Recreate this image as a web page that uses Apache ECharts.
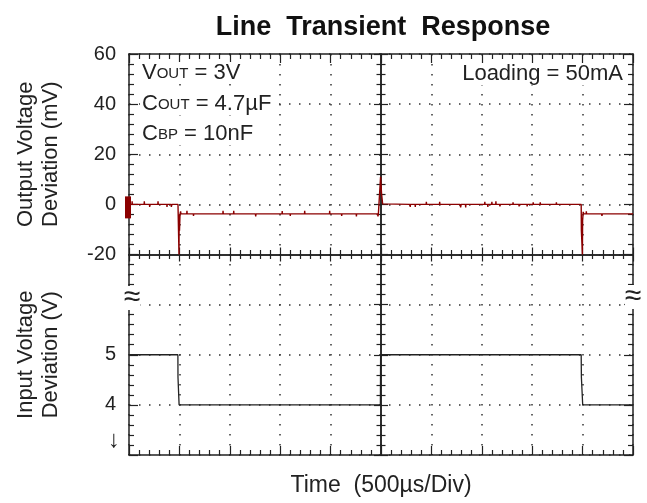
<!DOCTYPE html>
<html><head><meta charset="utf-8">
<script src="https://cdn.jsdelivr.net/npm/echarts@6/dist/echarts.min.js"></script>
<style>html,body{margin:0;padding:0;background:#fff}#c{width:647px;height:503px}</style>
</head><body><div id="c"></div>
<script>
// ---- data (time in µs, 500 µs / div) ----
const outT = [0,30,31,33,150,152,154,203,205,207,286,288,290,375,377,379,418,420,424,426,486,494,496,497,499,501,505,506,512,515,
  573,575,577,638,640,642,931,933,935,1037,1039,1041,1254,1257,1260,1518,1520,1522,1598,1600,1602,1741,1743,1745,1989,1991,1993,2108,2110,2112,2254,2256,2258,2466,2470,2474,
  2490,2494,2496,2503,2505,2513,2516,2525,
  2788,2790,2792,2838,2840,2842,2948,2950,2952,3080,3082,3084,3285,3290,3295,3338,3340,3342,3528,3530,3532,3558,3560,3562,3598,3600,3602,3638,3640,3642,3678,3680,3682,3808,3810,3812,3868,3870,3872,3948,3950,3952,4008,4010,4012,4078,4080,4082,4238,4240,4242,
  4486,4488,4496,4498,4500,4506,4512,4535,4537,4539,4688,4692,4696,5000];
const outMv = [0,0,1.2,0,0,1.2,0,0,-1,0,0,1.2,0,0,-1,0,0,-1,-1,0,0,0,-20,-10.5,-4,-10.5,-10.5,-4,-2.8,-3.8,
  -3.8,-2.6,-3.8,-3.8,-4.6,-3.8,-3.8,-2.6,-3.8,-3.8,-2.6,-3.8,-3.8,-4.8,-3.8,-3.8,-2.7,-3.8,-3.8,-4.6,-3.8,-3.8,-2.6,-3.8,-3.8,-2.6,-3.8,-3.8,-4.6,-3.8,-3.8,-4.8,-3.8,-3.8,-4.8,-3.8,
  -3.8,-3.8,11,11,4.5,4.5,0.2,0,
  0,-1,0,0,-1,0,0,1,0,0,1,0,0,-1.2,0,0,-1.2,0,0,1,0,0,-1,0,0,1,0,0,1.2,0,0,-0.8,0,0,0.8,0,0,-0.8,0,0,-0.8,0,0,0.8,0,0,0.8,0,0,0.8,0,
  0,-10.5,-10.5,-20,-6.5,-3,-3.8,-3.8,-2.8,-3.8,-3.8,-4.6,-3.8,-3.8];
const inT = [0,485,486,496,497,2494,2496,2506,2508,4486,4488,4500,4501,5000];
const inV = [5,5,4.55,4.55,4,4,4.95,4.95,5,5,4.55,4.55,4,4];
const outTicks = [-20, 0, 20, 40, 60];
const inTickLabels = {4: '4', 5: '5'};

// ---- layout / style ----
const FONT = '"Liberation Sans", Arial, sans-serif';
const INK = '#222';
const RED = '#8b0000';
const L = 129, T = 54, W = 504, H = 401;

const chart = echarts.init(document.getElementById('c'), null, {renderer: 'canvas'});
const zip = (a, b) => a.map((v, i) => [v, b[i]]);
const dotted = {show: true, lineStyle: {color: '#333', width: 1.5, type: [1.5, 8.5]}};
const lineSt = {color: INK, width: 1.5};
const tickSt = {color: INK, width: 1.2};

function frameAxis(dim, extra) {
  const base = {
    gridIndex: 0, type: 'value',
    min: dim === 'x' ? -5 : -4, max: dim === 'x' ? 5 : 4, interval: 1,
    axisLabel: {show: false},
    splitLine: {show: false},
    axisLine: {onZero: false, lineStyle: lineSt},
    axisTick: {inside: true, length: 9, lineStyle: tickSt},
    minorTick: {show: true, splitNumber: 5, length: 5, lineStyle: tickSt}
  };
  return Object.assign(base, extra);
}
const centerLine = (inside) => ({
  axisLine: {onZero: true, onZeroAxisIndex: 0, lineStyle: lineSt},
  axisTick: {inside: inside, length: 7, lineStyle: tickSt},
  minorTick: {show: true, splitNumber: 5, length: 4.5, lineStyle: tickSt}
});

const option = {
  animation: false,
  backgroundColor: '#fff',
  title: {
    text: 'Line  Transient  Response', left: 378, top: 9, textAlign: 'center',
    textStyle: {fontFamily: FONT, fontSize: 27, fontWeight: 'bold', color: '#111'}
  },
  grid: [
    {left: L, top: T, width: W, height: H},
    {left: L, top: T, width: W, height: H / 2},
    {left: L, top: T + H / 2, width: W, height: H / 2}
  ],
  xAxis: [
    frameAxis('x', {position: 'bottom', splitLine: dotted}),
    frameAxis('x', {position: 'top'}),
    frameAxis('x', Object.assign({position: 'bottom'}, centerLine(true))),
    frameAxis('x', Object.assign({position: 'bottom'}, centerLine(false))),
    {gridIndex: 1, type: 'value', min: 0, max: 5000, show: false},
    {gridIndex: 2, type: 'value', min: 0, max: 5000,
     axisLine: {show: false, onZero: false}, axisTick: {show: false}, axisLabel: {show: false}, splitLine: {show: false},
     name: 'Time  (500µs/Div)', nameLocation: 'middle', nameGap: 19,
     nameTextStyle: {fontFamily: FONT, fontSize: 23, color: INK}}
  ],
  yAxis: [
    frameAxis('y', {position: 'left', splitLine: dotted}),
    frameAxis('y', {position: 'right'}),
    frameAxis('y', Object.assign({position: 'left'}, centerLine(true))),
    frameAxis('y', Object.assign({position: 'left'}, centerLine(false))),
    {gridIndex: 1, type: 'value', min: outTicks[0], max: outTicks[outTicks.length - 1], interval: 20,
     axisLine: {show: false, onZero: false}, axisTick: {show: false}, splitLine: {show: false},
     axisLabel: {fontFamily: FONT, fontSize: 20, color: INK, margin: 13,
       formatter: v => outTicks.indexOf(v) >= 0 ? String(v) : ''},
     name: 'Output Voltage\nDeviation (mV)', nameLocation: 'middle', nameGap: 66, nameRotate: 90,
     nameTextStyle: {fontFamily: FONT, fontSize: 22, lineHeight: 25, color: INK}},
    {gridIndex: 2, type: 'value', min: 3, max: 7, interval: 1,
     axisLine: {show: false, onZero: false}, axisTick: {show: false}, splitLine: {show: false},
     axisLabel: {fontFamily: FONT, fontSize: 20, color: INK, margin: 13,
       formatter: v => inTickLabels[v] || ''},
     name: 'Input Voltage\nDeviation (V)', nameLocation: 'middle', nameGap: 66, nameRotate: 90,
     nameTextStyle: {fontFamily: FONT, fontSize: 22, lineHeight: 25, color: INK}}
  ],
  series: [
    {type: 'line', xAxisIndex: 4, yAxisIndex: 4, data: zip(outT, outMv), showSymbol: false, clip: true,
     lineStyle: {color: RED, width: 1.4}, itemStyle: {color: RED}, z: 5,
     markPoint: {silent: true, symbol: 'rect', symbolSize: [6, 22], symbolOffset: [-1, 0],
       itemStyle: {color: RED}, label: {show: false}, data: [{coord: [0, -1.2]}]}},
    {type: 'line', xAxisIndex: 5, yAxisIndex: 5, data: zip(inT, inV), showSymbol: false, clip: true,
     lineStyle: {color: '#222', width: 1.3}, itemStyle: {color: '#222'}, z: 5}
  ],
  graphic: []
};
chart.setOption(option);

const rich = {
  b: {fontFamily: FONT, fontSize: 22, color: INK, verticalAlign: 'bottom'},
  s: {fontFamily: FONT, fontSize: 15, color: INK, verticalAlign: 'bottom', padding: [0, 0, 3, 0]}
};
function note(text, x, y, align) {
  return {type: 'text', x: x, y: y, z: 20, silent: true,
    style: {text: text, rich: rich, align: align || 'left', verticalAlign: 'middle', fill: INK,
      font: '22px ' + FONT, backgroundColor: '#fff', padding: [0, 2]}};
}
const approx = (x, y) => ({type: 'text', x: x, y: y, z: 20, silent: true,
  style: {text: '≈', font: '30px ' + FONT, fill: INK, align: 'center', verticalAlign: 'middle',
    backgroundColor: '#fff', padding: [-4, 0, -2, 0]}});
chart.setOption({graphic: [
  note('{b|V}{s|OUT}{b| = 3V}', 140, 73),
  note('{b|C}{s|OUT}{b| = 4.7µF}', 140, 104),
  note('{b|C}{s|BP}{b| = 10nF}', 140, 134),
  note('{b|Loading = 50mA}', 625, 74, 'right'),
  approx(132, 298),
  approx(633, 297),
  {type: 'text', x: 114, y: 440, z: 20, silent: true,
   style: {text: '↓', font: '24px ' + FONT, fill: INK, align: 'center', verticalAlign: 'middle'}}
]});
</script>
</body></html>
